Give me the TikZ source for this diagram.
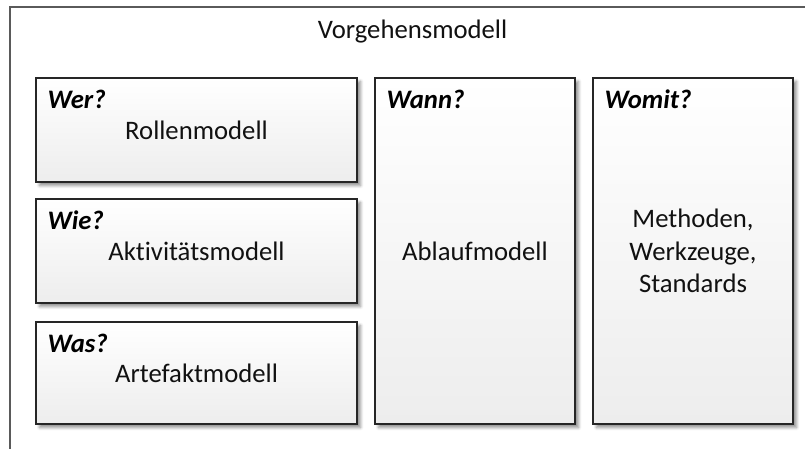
\documentclass[tikz,border=0pt]{standalone}
\usepackage{fontspec}
\setmainfont{Carlito}[Ligatures=NoCommon]
\usetikzlibrary{shadows.blur}

\definecolor{framegray}{HTML}{5A5A5A}
\definecolor{boxline}{HTML}{262626}
\definecolor{boxbottom}{HTML}{EDEDED}
\definecolor{inktext}{HTML}{111111}

\tikzset{
  modelbox/.style={
    draw=boxline, line width=1.2pt,
    top color=white, bottom color=boxbottom,
    blur shadow={shadow xshift=3.5pt, shadow yshift=-3.5pt,
                 shadow blur radius=3pt, shadow blur steps=6,
                 shadow opacity=45},
    align=center, inner sep=0pt,
    text=inktext, font=\fontsize{26.7}{32.5}\selectfont
  },
  question/.style={
    anchor=base west, inner sep=0pt, text=black,
    font=\fontsize{26.7}{32}\selectfont\bfseries\itshape
  },
  titletext/.style={
    anchor=base, inner sep=0pt, text=inktext,
    font=\fontsize{26.7}{32}\selectfont
  }
}

\begin{document}
\begin{tikzpicture}[x=1pt,y=-1pt]
  \useasboundingbox (0,0) rectangle (805,448);
  \clip (0,0) rectangle (805,448);

  % outer frame, running past the right and bottom edges
  \draw[framegray, line width=1.5pt] (10,7) rectangle (830,470);
  \node[titletext] (title) at (412.5,38) {Vorgehensmodell};

  % left column
  \node[modelbox, minimum width=321pt, minimum height=104pt]
    (wer) at (196.5,130) {Rollenmodell};
  \node[modelbox, minimum width=321pt, minimum height=104pt]
    (wie) at (196.5,251) {Aktivitätsmodell};
  \node[modelbox, minimum width=321pt, minimum height=102pt]
    (was) at (196.5,373) {Artefaktmodell};

  % tall boxes
  \node[modelbox, minimum width=200pt, minimum height=346pt]
    (wann) at (475,251) {Ablaufmodell};
  \node[modelbox, minimum width=200pt, minimum height=346pt]
    (womit) at (693,251) {Methoden,\\Werkzeuge,\\Standards};

  % questions in the upper left corners
  \node[question] (qwer)   at ([shift={(12pt,-31pt)}]wer.north west)   {Wer?};
  \node[question] (qwie)   at ([shift={(12pt,-31pt)}]wie.north west)   {Wie?};
  \node[question] (qwas)   at ([shift={(12pt,-31pt)}]was.north west)   {Was?};
  \node[question] (qwann)  at ([shift={(12pt,-31pt)}]wann.north west)  {Wann?};
  \node[question] (qwomit) at ([shift={(12pt,-31pt)}]womit.north west) {Womit?};
\end{tikzpicture}
\end{document}
